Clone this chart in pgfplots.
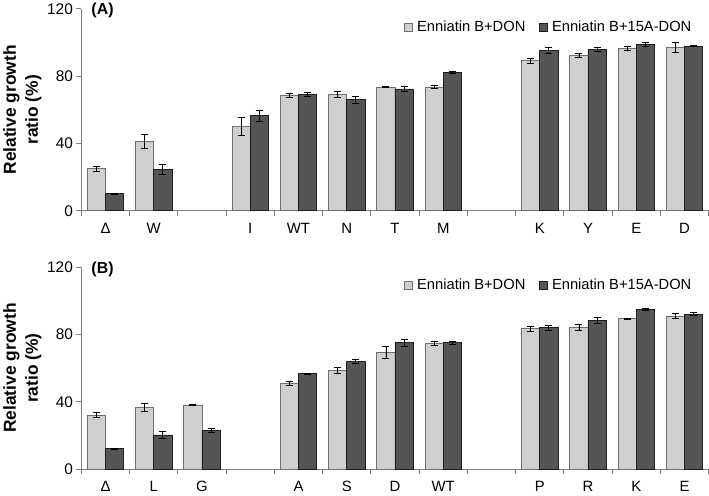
\documentclass[border=0pt]{standalone}
\usepackage{fontspec}
\setmainfont{Liberation Sans}
\usepackage{pgfplots}
\pgfplotsset{compat=1.18}
\definecolor{lightbar}{HTML}{CFCFCF}
\definecolor{lightedge}{HTML}{707070}
\definecolor{darkbar}{HTML}{555555}
\definecolor{darkedge}{HTML}{1E1E1E}
\definecolor{axgray}{HTML}{808080}
\pgfplotsset{
  panel/.style={
    scale only axis, width=631.5pt, height=203.5pt,
    xmin=-0.5, xmax=12.5, ymin=0, ymax=120,
    clip=false,
    ytick={0,40,80,120},
    axis x line*=bottom, axis y line*=left,
    x axis line style={-}, y axis line style={-},
    axis line style={axgray, line width=0.8pt},
    xtick={0,...,12},
    major x tick style={draw=none},
    minor xtick={-0.5,0.5,...,12.5},
    minor x tick style={axgray, line width=0.8pt},
    minor tick length=5pt,
    major y tick style={axgray, line width=0.8pt},
    major tick length=5pt,
    tick align=outside,
    /pgf/number format/assume math mode=true,
    yticklabel style={font=\fontsize{15.5}{17}\selectfont},
    xticklabel style={font=\fontsize{15}{17}\selectfont, yshift=-4pt},
    ylabel={Relative growth\\ratio (\%)},
    ylabel style={align=center, font=\bfseries\fontsize{17.5}{22}\selectfont, yshift=-1pt},
    ybar, bar width=0.377,
    legend columns=2,
    legend style={draw=none, fill=none, inner sep=0pt, at={(rel axis cs:0.976,0.91)}, anchor=east,
      font=\fontsize{14.8}{16}\selectfont,
      /tikz/every even column/.append style={column sep=12pt},
      /tikz/every odd column/.append style={column sep=2pt},
      nodes={inner sep=2pt}},
    error bars/y dir=both, error bars/y explicit,
    error bars/error bar style={black, line width=0.7pt},
    error bars/error mark options={black, line width=0.7pt, mark size=3.5pt, rotate=90},
  },
  lightplot/.style={fill=lightbar, draw=lightedge, line width=0.8pt, bar shift=-0.1885,
    legend image code/.code={\draw[fill=lightbar, draw=lightedge, line width=0.8pt] (0pt,-4pt) rectangle (8pt,4pt);}},
  darkplot/.style={fill=darkbar, draw=darkedge, line width=0.8pt, bar shift=0.1885,
    legend image code/.code={\draw[fill=darkbar, draw=darkedge, line width=0.8pt] (0pt,-4pt) rectangle (8pt,4pt);}},
}
\begin{document}
\begin{tikzpicture}
\begin{axis}[panel, name=top,
  xticklabels={Δ,W,{},I,WT,N,T,M,{},K,Y,E,D}]
\addplot[lightplot] coordinates {
 (0,25.2) +- (0,1.5) (1,41.2) +- (0,4.1) (3,50.3) +- (0,5.2) (4,68.6) +- (0,1.4)
 (5,69.0) +- (0,1.7) (6,73.6) +- (0,0.5) (7,73.6) +- (0,1.0) (9,89.2) +- (0,1.4)
 (10,92.3) +- (0,1.1) (11,96.4) +- (0,1.0) (12,97.0) +- (0,3.0)};
\addlegendentry{Enniatin B+DON}
\addplot[darkplot] coordinates {
 (0,10.3) +- (0,0.3) (1,24.5) +- (0,3.0) (3,56.4) +- (0,3.4) (4,69.2) +- (0,1.2)
 (5,65.9) +- (0,2.3) (6,72.4) +- (0,1.3) (7,82.2) +- (0,0.7) (9,95.5) +- (0,1.7)
 (10,95.7) +- (0,1.1) (11,98.8) +- (0,1.1) (12,97.8) +- (0,0.3)};
\addlegendentry{Enniatin B+15A-DON}
\node[anchor=west, inner sep=0pt, font=\bfseries\fontsize{16}{18}\selectfont] at (rel axis cs:0,1) [xshift=10pt, yshift=-2pt] {(A)};
\end{axis}
\begin{axis}[panel, at={(0pt,-260pt)},
  xticklabels={Δ,L,G,{},A,S,D,WT,{},P,R,K,E}]
\addplot[lightplot] coordinates {
 (0,32.2) +- (0,1.4) (1,36.9) +- (0,2.4) (2,38.1) +- (0,0.4) (4,51.1) +- (0,1.3)
 (5,58.8) +- (0,1.8) (6,69.2) +- (0,3.5) (7,74.4) +- (0,1.2) (9,83.4) +- (0,1.4)
 (10,84.2) +- (0,2.0) (11,89.2) +- (0,0.5) (12,90.9) +- (0,1.5)};
\addlegendentry{Enniatin B+DON}
\addplot[darkplot] coordinates {
 (0,12.2) +- (0,0.3) (1,20.3) +- (0,2.0) (2,23.1) +- (0,1.0) (4,56.6) +- (0,0.4)
 (5,64.1) +- (0,1.0) (6,75.1) +- (0,2.1) (7,75.1) +- (0,1.0) (9,84.0) +- (0,1.6)
 (10,88.4) +- (0,1.6) (11,94.7) +- (0,0.5) (12,92.1) +- (0,0.8)};
\addlegendentry{Enniatin B+15A-DON}
\node[anchor=west, inner sep=0pt, font=\bfseries\fontsize{16}{18}\selectfont] at (rel axis cs:0,1) [xshift=10pt, yshift=-2pt] {(B)};
\end{axis}
\end{tikzpicture}
\end{document}
